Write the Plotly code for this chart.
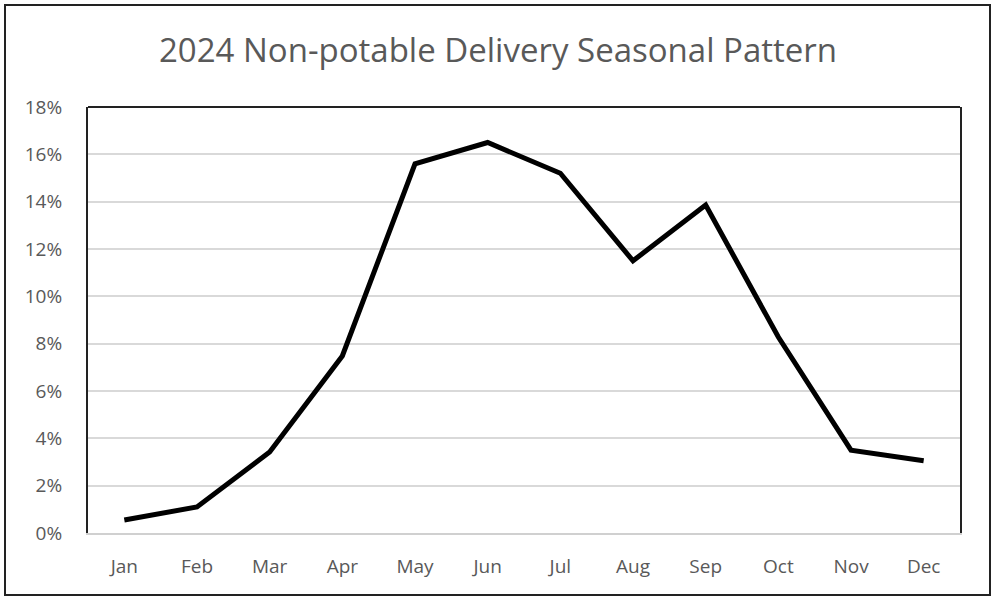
import plotly.graph_objects as go

months = ["Jan", "Feb", "Mar", "Apr", "May", "Jun", "Jul", "Aug", "Sep", "Oct", "Nov", "Dec"]
share_pct = [0.55, 1.1, 3.42, 7.48, 15.6, 16.5, 15.2, 11.5, 13.86, 8.28, 3.5, 3.05]
y_ticks = [0, 2, 4, 6, 8, 10, 12, 14, 16, 18]
y_tick_labels = [f"{v}%" for v in y_ticks]

L, R, T, B = 88, 36, 107, 65
W, H = 996, 598
pw, ph = W - L - R, H - T - B

def px_x(p):
    return (p - L) / pw

def px_y(p):
    return (H - B - p) / ph

fig = go.Figure()
fig.add_trace(go.Scatter(
    x=months, y=share_pct, mode="lines",
    line=dict(color="#000000", width=5),
    hoverinfo="skip", showlegend=False,
))

font_family = "Open Sans, Noto Sans, sans-serif"
fig.update_layout(
    width=W, height=H,
    margin=dict(l=L, r=R, t=T, b=B),
    paper_bgcolor="white", plot_bgcolor="white",
    title=dict(text="2024 Non-potable Delivery Seasonal Pattern",
               x=0.5, xref="container", y=1 - 50 / H, yanchor="middle",
               font=dict(family=font_family, size=33, color="#595959")),
    xaxis=dict(showgrid=False, showline=True, linecolor="#d0d0d0", linewidth=2,
               ticks="", tickfont=dict(family=font_family, size=19, color="#595959"),
               ticklabelstandoff=15, range=[-0.5, 11.5], fixedrange=True),
    yaxis=dict(range=[0, 18], tickvals=y_ticks, ticktext=y_tick_labels,
               showgrid=True, gridcolor="#d9d9d9", gridwidth=1.5,
               showline=True, linecolor="#222222", linewidth=2, mirror=True,
               zeroline=False, ticks="",
               tickfont=dict(family=font_family, size=19, color="#595959"),
               ticklabelstandoff=20, fixedrange=True),
    shapes=[
        dict(type="line", xref="paper", yref="paper", x0=0, x1=1, y0=1, y1=1,
             line=dict(color="#222222", width=2)),
        dict(type="rect", xref="paper", yref="paper",
             x0=px_x(5), x1=px_x(990), y0=px_y(595), y1=px_y(5),
             line=dict(color="#222222", width=2)),
    ],
)

fig.write_html("out.html", config={"displayModeBar": False},
               post_script="document.body.style.margin='0';")
